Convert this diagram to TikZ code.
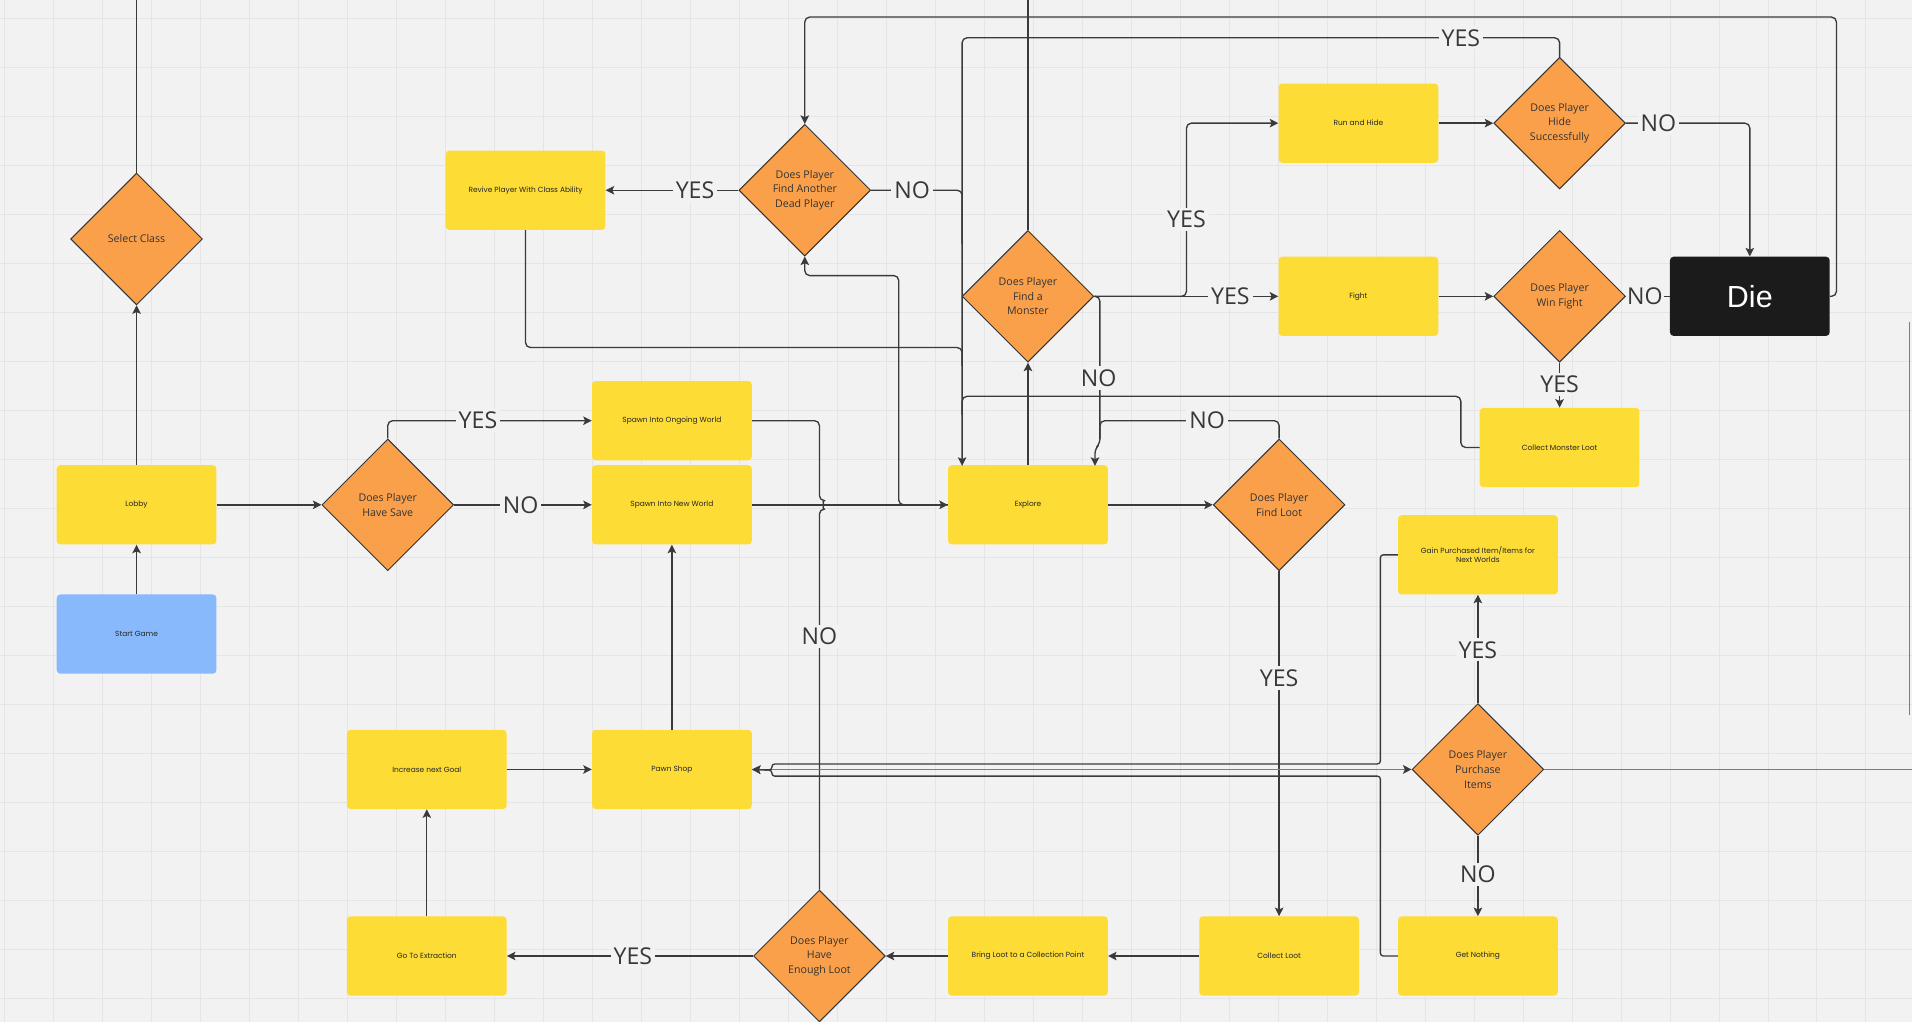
\documentclass[tikz,border=0pt]{standalone}
\usepackage{fontspec}
\setmainfont{Open Sans}
\newfontfamily\rectfont{Poppins}
\newfontfamily\diefont{Liberation Sans}
\usetikzlibrary{shapes.geometric,arrows.meta}
\definecolor{bg}{HTML}{F2F2F2}
\definecolor{gridc}{HTML}{E5E5E5}
\definecolor{stickyY}{HTML}{FDDC36}
\definecolor{orangeD}{HTML}{FAA04B}
\definecolor{blueS}{HTML}{89B9FD}
\definecolor{lineC}{HTML}{3A3A3A}
\definecolor{midC}{HTML}{7C7C7C}
\definecolor{dieC}{HTML}{1B1B1B}
\begin{document}
\begin{tikzpicture}[x=1pt,y=-1pt,
 box/.style={rectangle, rounded corners=3pt, fill=stickyY, minimum width=131pt, minimum height=65pt, inner sep=2pt, font=\rectfont\fontsize{6.1}{7.3}\selectfont, align=center, text=black!85},
 dia/.style={diamond, aspect=1, draw=black!80, line width=0.8pt, fill=orangeD, minimum width=108pt, minimum height=108pt, inner sep=0pt, font=\fontsize{8.7}{12}\selectfont, align=center, text=black!80},
 conn/.style={draw=lineC, line width=1.1pt, rounded corners=4pt},
 arr/.style={conn, -{Stealth[length=7pt,width=7pt,inset=1.5pt]}},
 lab/.style={fill=bg, inner sep=2.5pt, font=\fontsize{19}{19}\selectfont, text=black!78}
]
\useasboundingbox (0,0) rectangle (1568,838);
\fill[bg] (0,0) rectangle (1568,838);
\foreach \i in {0,...,39} \draw[gridc, line width=0.6pt] ({3.3+\i*40.18},0) -- ++(0,838);
\foreach \j in {0,...,20} \draw[gridc, line width=0.6pt] (0,{14.8+\j*40.18}) -- ++(1568,0);

% ---------- nodes ----------
\node[box, fill=blueS] (start) at (112,520) {Start Game};
\node[box] (lobby) at (112,414) {Lobby};
\node[dia] (selclass) at (112,196) {Select Class};
\node[dia] (havesave) at (318,414) {Does Player\\Have Save};
\node[box] (spawnon) at (551,345) {Spawn Into Ongoing World};
\node[box] (spawnnew) at (551,414) {Spawn Into New World};
\node[box] (revive) at (431,156) {Revive Player With Class Ability};
\node[dia] (findanother) at (660,156) {Does Player\\Find Another\\Dead Player};
\node[box] (explore) at (843,414) {Explore};
\node[dia] (monster) at (843,243) {Does Player\\Find a\\Monster};
\node[box] (runhide) at (1114,101) {Run and Hide};
\node[dia] (hide) at (1279,101) {Does Player\\Hide\\Successfully};
\node[box] (fight) at (1114,243) {Fight};
\node[dia] (winfight) at (1279,243) {Does Player\\Win Fight};
\node[box, fill=dieC, text=white, font=\diefont\fontsize{25}{25}\selectfont] (die) at (1435,243) {Die};
\node[box] (cml) at (1279,367) {Collect Monster Loot};
\node[dia] (findloot) at (1049,414) {Does Player\\Find Loot};
\node[box] (gain) at (1212,455) {Gain Purchased Item/Items for\\Next Worlds};
\node[dia] (purchase) at (1212,631) {Does Player\\Purchase\\Items};
\node[box] (getnothing) at (1212,784) {Get Nothing};
\node[box] (collectloot) at (1049,784) {Collect Loot};
\node[box] (bringloot) at (843,784) {Bring Loot to a Collection Point};
\node[dia] (enough) at (672,784) {Does Player\\Have\\Enough Loot};
\node[box] (goext) at (350,784) {Go To Extraction};
\node[box] (incgoal) at (350,631) {Increase next Goal};
\node[box] (pawn) at (551,631) {Pawn Shop};

\coordinate (topA) at (112,0);
\coordinate (topB) at (843,0);
\coordinate (rightA) at (1568,631);
\coordinate (exIn1) at (789,382);
\coordinate (exIn2) at (898,382);

% ---------- connectors ----------
\draw[arr] (start.north) -- (lobby.south);
\draw[arr] (lobby.north) -- (selclass.south);
\draw[conn] (selclass.north) -- (topA);
\draw[arr] (lobby.east) -- (havesave.west);
\draw[arr] (havesave.north) -- (318,345) -- (spawnon.west);
\draw[arr] (havesave.east) -- (spawnnew.west);
\draw[arr] (spawnnew.east) -- (explore.west);
\draw[conn] (spawnon.east) -- (672,345) -- (672,410.5) arc[start angle=-90,end angle=90,radius=3.5] -- (enough.north);
\draw[arr] (explore.west) -- (737,414) -- (737,226) -- (660,226) -- (findanother.south);
\draw[arr] (findanother.west) -- (revive.east);
\draw[conn] (findanother.east) -- (789,156) -- (789,200);
\draw[arr] (hide.north) -- (1279,31) -- (789,31) -- (exIn1);
\draw[conn] (revive.south) -- (431,285) -- (789,285) -- (789,300);
\draw[conn] (cml.west) -- (1198,367) -- (1198,325) -- (789,325) -- (789,340);
\draw[arr] (explore.north) -- (monster.south);
\draw[conn] (monster.north) -- (topB);
\draw[arr] (monster.east) -- (fight.west);
\draw[arr] (monster.east) -- (973,243) -- (973,101) -- (runhide.west);
\draw[arr] (monster.east) -- (902,243) -- (902,364) -- (898,368) -- (exIn2);
\draw[conn] (findloot.north) -- (1049,345) -- (902,345) -- (902,360);
\draw[arr] (runhide.east) -- (hide.west);
\draw[arr] (hide.east) -- (1435,101) -- (die.north);
\draw[arr] (fight.east) -- (winfight.west);
\draw[conn] (winfight.east) -- (die.west);
\draw[arr] (winfight.south) -- (cml.north);
\draw[arr] (die.east) -- (1506,243) -- (1506,14) -- (660,14) -- (findanother.north);
\draw[arr] (explore.east) -- (findloot.west);
\draw[arr] (findloot.south) -- (collectloot.north);
\draw[arr] (collectloot.west) -- (bringloot.east);
\draw[arr] (bringloot.west) -- (enough.east);
\draw[arr] (enough.west) -- (goext.east);
\draw[arr] (goext.north) -- (incgoal.south);
\draw[arr] (incgoal.east) -- (pawn.west);
\draw[arr] (pawn.north) -- (spawnnew.south);
\draw[conn, draw=midC, line width=1.5pt, -{Stealth[length=7pt,width=7pt,inset=1.5pt,color=lineC]}] (pawn.east) -- (purchase.west);
\draw[arr, rounded corners=2.4pt] (gain.west) -- (1132,455) -- (1132,626.5) -- (633,626.5) -- (633,631.5) -- (pawn.east);
\draw[arr, rounded corners=2.4pt] (getnothing.west) -- (1132,784) -- (1132,636.5) -- (633,636.5) -- (633,631.5) -- (pawn.east);
\draw[conn, draw=midC, line width=1.5pt] (purchase.east) -- (rightA);
\draw[arr] (purchase.north) -- (gain.south);
\draw[arr] (purchase.south) -- (getnothing.north);
\draw[midC, line width=1pt] (1566,264) -- (1566,586);

% ---------- labels ----------
\node[lab] (l1) at (392,345) {YES};
\node[lab] (l2) at (427,414) {NO};
\node[lab] (l3) at (570,156) {YES};
\node[lab] (l4) at (748,156) {NO};
\node[lab] (l5) at (1198,31) {YES};
\node[lab] (l6) at (973,180) {YES};
\node[lab] (l7) at (1009,243) {YES};
\node[lab] (l8) at (901,310) {NO};
\node[lab] (l9) at (990,345) {NO};
\node[lab] (l10) at (1360,101) {NO};
\node[lab, inner sep=1pt] (l11) at (1349,243) {NO};
\node[lab] (l12) at (1279,315) {YES};
\node[lab] (l13) at (672,522) {NO};
\node[lab] (l14) at (1049,556) {YES};
\node[lab] (l15) at (519,784) {YES};
\node[lab] (l16) at (1212,533) {YES};
\node[lab] (l17) at (1212,717) {NO};
\end{tikzpicture}
\end{document}
